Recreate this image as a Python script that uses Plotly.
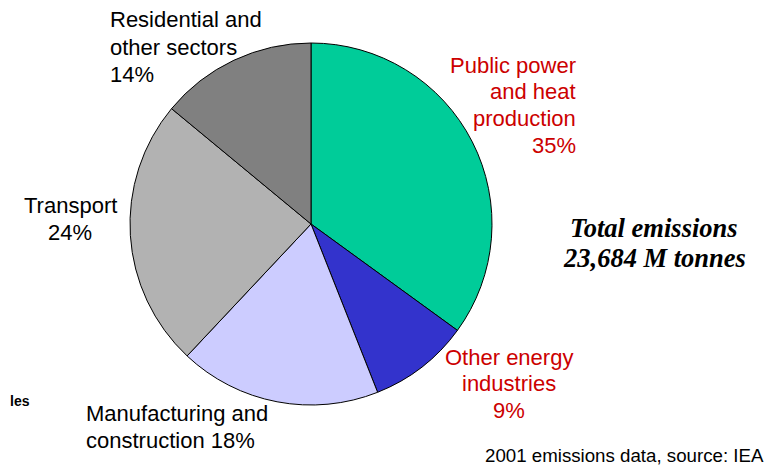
import plotly.graph_objects as go

W, H = 773, 466
OFF = 8  # page body margin
FW, FH = W - OFF, H - OFF

sectors = ["Public power and heat production", "Other energy industries",
           "Manufacturing and construction", "Transport", "Residential and other sectors"]
shares = [35, 9, 18, 24, 14]
colors = ["#00CC99", "#3333CC", "#CCCCFF", "#B2B2B2", "#808080"]

# label lines (text, x px, y px, anchor, colour)
label_lines = [
    ("Residential and", 108, 20, "left", "#000000"),
    ("other sectors", 108, 47, "left", "#000000"),
    ("14%", 108, 74, "left", "#000000"),
    ("Public power", 578, 66, "right", "#CC0000"),
    ("and heat", 578, 92, "right", "#CC0000"),
    ("production", 578, 118, "right", "#CC0000"),
    ("35%", 578, 145, "right", "#CC0000"),
    ("Transport", 70, 205, "center", "#000000"),
    ("24%", 70, 232, "center", "#000000"),
    ("Other energy", 509, 357, "center", "#CC0000"),
    ("industries", 509, 383, "center", "#CC0000"),
    ("9%", 509, 410, "center", "#CC0000"),
    ("Manufacturing and", 84, 413, "left", "#000000"),
    ("construction 18%", 84, 440, "left", "#000000"),
]

total_lines = ["Total emissions", "23,684 M tonnes"]
footer = "2001 emissions data, source: IEA"


def px(x):
    return (x - OFF) / FW


def py(y):
    return 1 - (y - OFF) / FH


cx, cy, r = 311, 224, 181

fig = go.Figure(go.Pie(
    labels=sectors, values=shares, sort=False, direction="clockwise", rotation=0,
    marker=dict(colors=colors, line=dict(color="#000000", width=1)),
    textinfo="none", hoverinfo="label+percent", showlegend=False,
    domain=dict(x=[px(cx - r), px(cx + r)], y=[py(cy + r), py(cy - r)]),
))

ann = []
for t, x, y, a, c in label_lines:
    ann.append(dict(text=t, x=px(x), y=py(y), xref="paper", yref="paper",
                    xanchor=a, yanchor="middle", showarrow=False,
                    font=dict(family="Liberation Sans, Arial", size=22, color=c)))
for i, t in enumerate(total_lines):
    ann.append(dict(text="<b><i>%s</i></b>" % t, x=px(654), y=py(228 + 30 * i),
                    xref="paper", yref="paper", xanchor="center", yanchor="middle",
                    showarrow=False,
                    font=dict(family="Liberation Serif, Times New Roman", size=26.5, color="#000000")))
ann.append(dict(text=footer, x=px(766), y=py(455), xref="paper", yref="paper",
                xanchor="right", yanchor="middle", showarrow=False,
                font=dict(family="Liberation Sans, Arial", size=18.7, color="#000000")))
ann.append(dict(text="<b>les</b>", x=px(OFF), y=py(401), xref="paper", yref="paper",
                xanchor="left", yanchor="middle", showarrow=False,
                font=dict(family="Liberation Sans, Arial", size=14, color="#000000")))

fig.update_layout(width=FW, height=FH, margin=dict(l=0, r=0, t=0, b=0),
                  paper_bgcolor="white", plot_bgcolor="white", annotations=ann)
fig.write_html("out.html")
